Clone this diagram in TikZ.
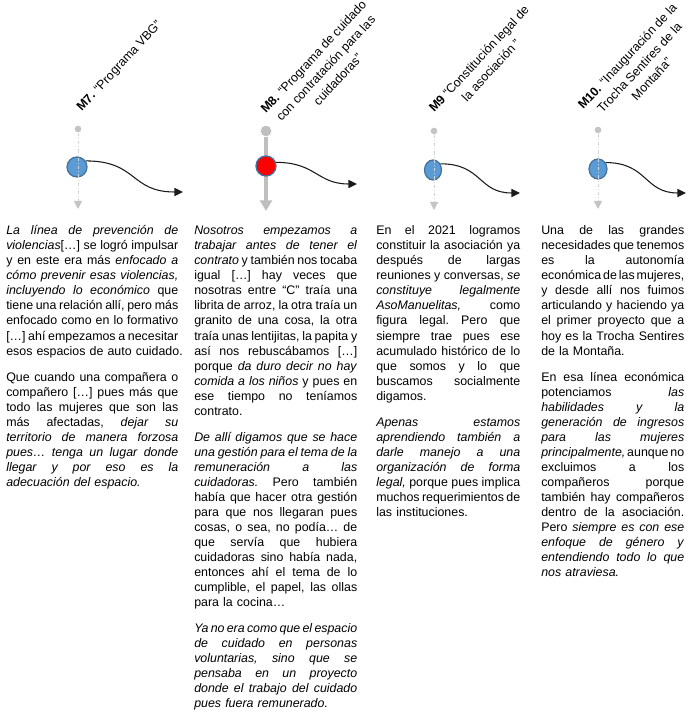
\documentclass[tikz,border=0pt]{standalone}
\usepackage{fontspec}
\setmainfont{Liberation Sans}
\usetikzlibrary{arrows.meta,shapes.geometric}
\definecolor{mblue}{HTML}{5B9BD5}
\definecolor{mborder}{HTML}{41719C}
\definecolor{gdot}{HTML}{C4C4C4}
\definecolor{gdash}{HTML}{D4D4D4}
\definecolor{gthick}{HTML}{BFBFBF}
\definecolor{ink}{HTML}{1A1A1A}
\newcommand{\jl}[1]{\hbox to\hsize{\spaceskip=\fontdimen2\font plus 1fil minus .5\fontdimen2\font\relax#1}}
\newcommand{\lastl}[1]{\hbox{#1}}
\newcommand{\pgap}{\vskip 8.25pt}
\hfuzz=5pt
\begin{document}
\begin{tikzpicture}[x=0.75pt,y=-0.75pt,
  body/.style={anchor=base west, inner sep=0pt, text width=#1,
    font=\fontsize{9.3pt}{11.25pt}\selectfont\frenchspacing},
  title/.style={anchor=north west, inner sep=0pt, rotate=47, align=center,
    font=\fontsize{9.3pt}{11pt}\selectfont},
  msblue/.style={draw=mborder, line width=0.9pt, fill=mblue, inner sep=0pt},
  dotnode/.style={circle, fill=#1, inner sep=0pt},
  guide/.style={gdash, line width=0.75pt,
    dash pattern=on 2.5pt off 1.5pt on 0.75pt off 1.5pt,
    -{Triangle[length=6pt,width=6pt,color=gdot]}},
  thickguide/.style={gthick, line width=3pt, -{Triangle[length=8pt,width=9pt]}},
  flow/.style={ink, line width=0.8pt, -{Triangle[length=6.4pt,width=6pt]}}
]
\useasboundingbox (0,0) rectangle (688,712);

% ---------- titles ----------
\node[title] (t7) at (75.2,105.7) {\textbf{M7.} “Programa VBG”};
\node[title] (t8) at (259.2,107.7) {\textbf{M8.} “Programa de cuidado\\[1.5pt]con contratación para las\\[1.5pt]cuidadoras”};
\node[title] (t9) at (427.2,106.7) {\textbf{M9} “Constitución legal de\\[1.5pt]la asociación ”};
\node[title] (t10) at (576.2,103.7) {\textbf{M10.} “Inauguración de la\\[1.5pt]Trocha Sentires de la\\[1.5pt]Montaña”};

% ---------- M7 ----------
\node[msblue, circle, minimum size=15pt] (c7) at (77,167) {};
\node[dotnode=gdot, minimum size=5pt] (d7) at (78,129) {};
\coordinate (a7) at (78,209);
\draw[guide] (d7) -- (a7);
\coordinate (e7) at (183,192);
\draw[flow] (c7.35) .. controls +(52,0) and +(-53,0) .. (e7);

% ---------- M8 ----------
\node[dotnode=gthick, minimum size=8pt] (d8) at (266,131) {};
\coordinate (a8) at (266,211);
\draw[thickguide] (d8) -- (a8);
\node[circle, draw=mborder, line width=1pt, fill=red, inner sep=0pt, minimum size=15pt] (c8) at (266,166) {};
\coordinate (e8) at (357,184);
\draw[flow] (c8.20) .. controls +(40,0) and +(-40,0) .. (e8);

% ---------- M9 ----------
\node[msblue, ellipse, minimum width=12.75pt, minimum height=15pt] (c9) at (433,170) {};
\node[dotnode=gdot, minimum size=5pt] (d9) at (434,131) {};
\coordinate (a9) at (434,210);
\draw[guide] (d9) -- (a9);
\coordinate (e9) at (520,193);
\draw[flow] (c9.40) .. controls +(42,0) and +(-42,0) .. (e9);

% ---------- M10 ----------
\node[msblue, ellipse, minimum width=13.5pt, minimum height=15pt] (c10) at (598,169) {};
\node[dotnode=gdot, minimum size=5pt] (d10) at (598,130) {};
\coordinate (a10) at (598,209);
\draw[guide] (d10) -- (a10);
\coordinate (e10) at (686,193);
\draw[flow] (c10.40) .. controls +(42,0) and +(-42,0) .. (e10);

% ---------- texts ----------
\node[body=129pt] (p7) at (6,235) {%
\jl{\textit{La línea de prevención de}}
\jl{\textit{violencias}[…] se logró impulsar}
\jl{y en este era más \textit{enfocado a}}
\jl{\textit{cómo prevenir esas violencias,}}
\jl{\textit{incluyendo lo económico} que}
\jl{tiene una relación allí, pero más}
\jl{enfocado como en lo formativo}
\jl{[…] ahí empezamos a necesitar}
\lastl{esos espacios de auto cuidado.}
\pgap
\jl{Que cuando una compañera o}
\jl{compañero […] pues más que}
\jl{todo las mujeres que son las}
\jl{más afectadas, \textit{dejar su}}
\jl{\textit{territorio de manera forzosa}}
\jl{\textit{pues… tenga un lugar donde}}
\jl{\textit{llegar y por eso es la}}
\lastl{\textit{adecuación del espacio.}}};

\node[body=122.25pt] (p8) at (194,235) {%
\jl{\textit{Nosotros empezamos a}}
\jl{\textit{trabajar antes de tener el}}
\jl{\textit{contrato} y también nos tocaba}
\jl{igual […] hay veces que}
\jl{nosotras entre “C” traía una}
\jl{librita de arroz, la otra traía un}
\jl{granito de una cosa, la otra}
\jl{traía unas lentijitas, la papita y}
\jl{así nos rebuscábamos […]}
\jl{porque \textit{da duro decir no hay}}
\jl{\textit{comida a los niños} y pues en}
\jl{ese tiempo no teníamos}
\lastl{contrato.}
\pgap
\jl{\textit{De allí digamos que se hace}}
\jl{\textit{una gestión para el tema de la}}
\jl{\textit{remuneración a las}}
\jl{\textit{cuidadoras.} Pero también}
\jl{había que hacer otra gestión}
\jl{para que nos llegaran pues}
\jl{cosas, o sea, no podía… de}
\jl{que servía que hubiera}
\jl{cuidadoras sino había nada,}
\jl{entonces ahí el tema de lo}
\jl{cumplible, el papel, las ollas}
\lastl{para la cocina…}
\pgap
\jl{\textit{Ya no era como que el espacio}}
\jl{\textit{de cuidado en personas}}
\jl{\textit{voluntarias, sino que se}}
\jl{\textit{pensaba en un proyecto}}
\jl{\textit{donde el trabajo del cuidado}}
\lastl{\textit{pues fuera remunerado.}}};

\node[body=108pt] (p9) at (376,235) {%
\jl{En el 2021 logramos}
\jl{constituir la asociación ya}
\jl{después de largas}
\jl{reuniones y conversas, \textit{se}}
\jl{\textit{constituye legalmente}}
\jl{\textit{AsoManuelitas,} como}
\jl{figura legal. Pero que}
\jl{siempre trae pues ese}
\jl{acumulado histórico de lo}
\jl{que somos y lo que}
\jl{buscamos socialmente}
\lastl{digamos.}
\pgap
\jl{\textit{Apenas estamos}}
\jl{\textit{aprendiendo también a}}
\jl{\textit{darle manejo a una}}
\jl{\textit{organización de forma}}
\jl{\textit{legal,} porque pues implica}
\jl{muchos requerimientos de}
\lastl{las instituciones.}};

\node[body=107.25pt] (p10) at (541,235) {%
\jl{Una de las grandes}
\jl{necesidades que tenemos}
\jl{es la autonomía}
\jl{económica de las mujeres,}
\jl{y desde allí nos fuimos}
\jl{articulando y haciendo ya}
\jl{el primer proyecto que a}
\jl{hoy es la Trocha Sentires}
\lastl{de la Montaña.}
\pgap
\jl{En esa línea económica}
\jl{potenciamos \textit{las}}
\jl{\textit{habilidades y la}}
\jl{\textit{generación de ingresos}}
\jl{\textit{para las mujeres}}
\jl{\textit{principalmente,} aunque no}
\jl{excluimos a los}
\jl{compañeros porque}
\jl{también hay compañeros}
\jl{dentro de la asociación.}
\jl{Pero \textit{siempre es con ese}}
\jl{\textit{enfoque de género y}}
\jl{\textit{entendiendo todo lo que}}
\lastl{\textit{nos atraviesa.}}};
\end{tikzpicture}
\end{document}
